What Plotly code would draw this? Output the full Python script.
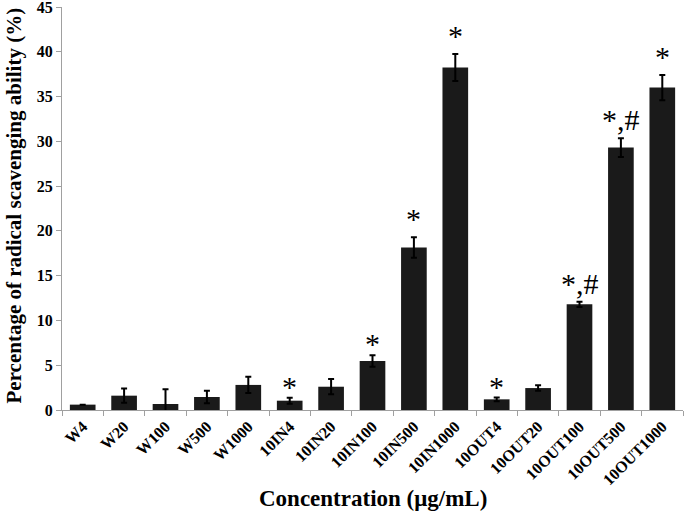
import plotly.graph_objects as go

categories = ["W4", "W20", "W100", "W500", "W1000", "10IN4", "10IN20", "10IN100",
              "10IN500", "10IN1000", "10OUT4", "10OUT20", "10OUT100", "10OUT500", "10OUT1000"]
values = [0.6, 1.6, 0.67, 1.45, 2.8, 1.04, 2.6, 5.47, 18.15, 38.25, 1.19, 2.45, 11.8, 29.3, 36.0]
errors = [0.0, 0.8, 1.65, 0.7, 0.9, 0.33, 0.85, 0.65, 1.15, 1.5, 0.2, 0.3, 0.3, 1.05, 1.4]
marks = ["", "", "", "", "", "*", "", "*", "*", "*", "*", "", "*,#", "*,#", "*"]
y_ticks = [0, 5, 10, 15, 20, 25, 30, 35, 40, 45]

FONT = "Liberation Serif"

fig = go.Figure()
fig.add_trace(go.Bar(
    x=categories, y=values,
    marker=dict(color="#1a1a1a", line=dict(width=0)),
    error_y=dict(type="data", array=errors, visible=True, color="black", thickness=2, width=3),
    width=0.62,
))

for c, v, e, m in zip(categories, values, errors, marks):
    if m:
        shift = -7 if (v + e) < 8 else 0
        fig.add_annotation(x=c, y=v + e, text=m, showarrow=False, yanchor="bottom",
                           yshift=shift, font=dict(family=FONT, size=30, color="black"))

# axis titles
fig.add_annotation(text="<b>Concentration (μg/mL)</b>", xref="paper", yref="paper",
                   x=0.5, y=0, yshift=-88, yanchor="middle", showarrow=False,
                   font=dict(family=FONT, size=23, color="black"))
fig.add_annotation(text="<b>Percentage of radical scavenging ability (%)</b>", xref="paper", yref="paper",
                   x=0, xshift=-49, y=0.5, yshift=3, textangle=-90, xanchor="center", yanchor="middle",
                   showarrow=False, font=dict(family=FONT, size=21, color="black"))

fig.update_layout(
    width=685, height=513,
    margin=dict(l=62, r=2, t=7, b=103),
    paper_bgcolor="white", plot_bgcolor="white",
    showlegend=False,
    font=dict(family=FONT, color="black"),
)
fig.update_xaxes(
    automargin=False,
    tickangle=-45, tickfont=dict(family=FONT, size=16, color="black", weight="bold"),
    showline=True, linecolor="#a0a0a0", linewidth=1,
    ticks="outside", ticklen=5, tickcolor="#a0a0a0", tickson="boundaries",
    showgrid=False, ticklabeloverflow="allow",
)
fig.update_yaxes(
    automargin=False,
    range=[0, 45], tickvals=y_ticks,
    tickfont=dict(family=FONT, size=16, color="black", weight="bold"),
    showline=True, linecolor="#a0a0a0", linewidth=1,
    ticks="outside", ticklen=5, tickcolor="#a0a0a0",
    showgrid=False, zeroline=False, ticklabeloverflow="allow",
)

fig.write_html("out.html", config={"displayModeBar": False},
               post_script="document.body.style.margin='0';document.body.style.overflow='hidden';")
